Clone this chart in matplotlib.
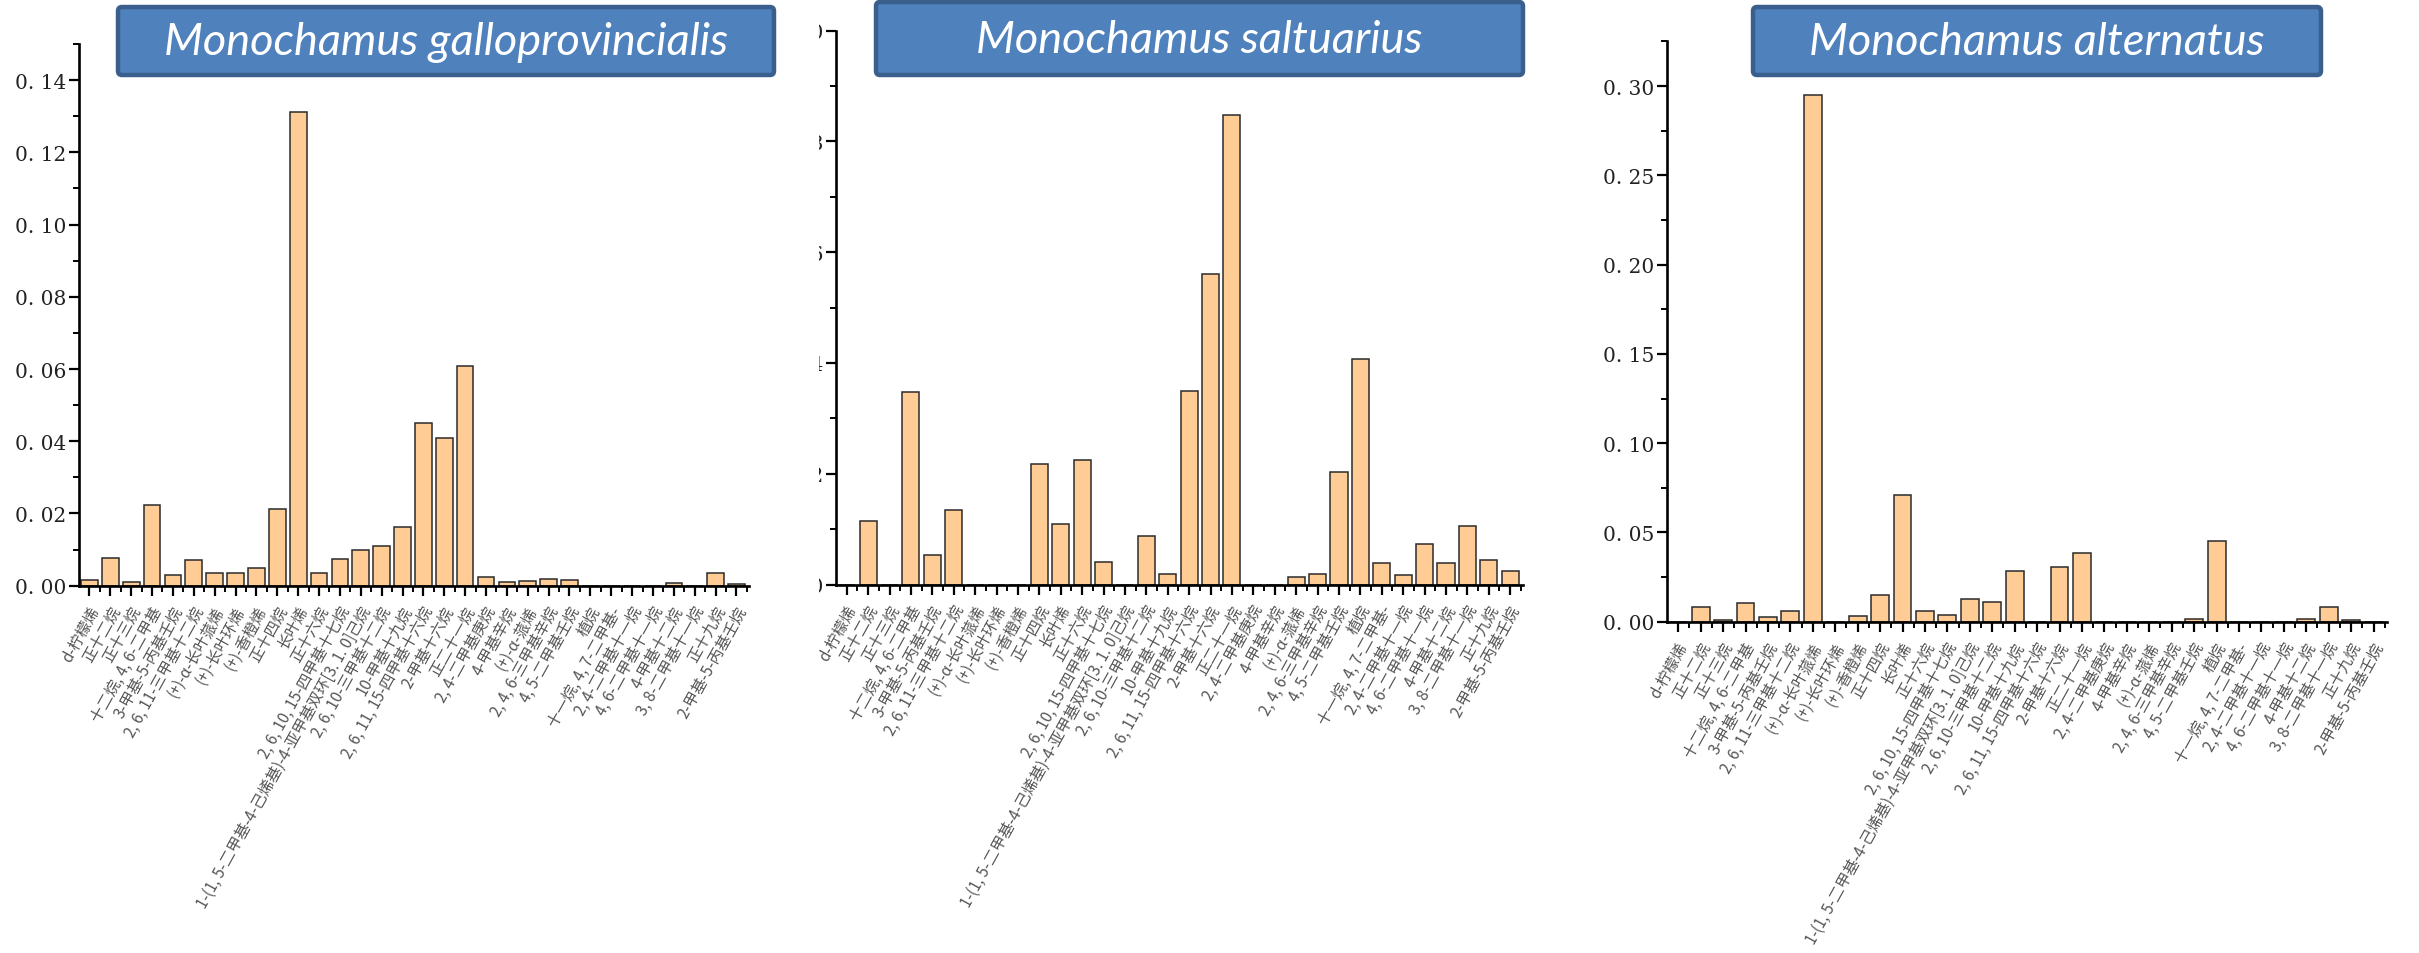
import matplotlib
matplotlib.use("Agg")
import matplotlib.pyplot as plt
from matplotlib.patches import FancyBboxPatch, Rectangle
from matplotlib.transforms import IdentityTransform, ScaledTranslation
from matplotlib.ticker import MultipleLocator, FixedLocator
import numpy as np

plt.rcParams['font.family'] = ['Noto Sans CJK SC', 'DejaVu Sans']

compounds = ["d-柠檬烯", "正十二烷", "正十三烷", "十二烷, 4, 6-二甲基", "3-甲基-5-丙基壬烷",
             "2, 6, 11-三甲基十二烷", "(+)-α-长叶蒎烯", "(+)-长叶环烯", "(+)-香橙烯", "正十四烷",
             "长叶烯", "正十六烷", "2, 6, 10, 15-四甲基十七烷",
             "1-(1, 5-二甲基-4-己烯基)-4-亚甲基双环[3. 1. 0]己烷", "2, 6, 10-三甲基十二烷",
             "10-甲基十九烷", "2, 6, 11, 15-四甲基十六烷", "2-甲基十六烷", "正二十一烷",
             "2, 4-二甲基庚烷", "4-甲基辛烷", "(+)-α-蒎烯", "2, 4, 6-三甲基辛烷", "4, 5-二甲基壬烷",
             "植烷", "十一烷, 4, 7-二甲基-", "2, 4-二甲基十一烷", "4, 6-二甲基十一烷", "4-甲基十二烷",
             "3, 8-二甲基十一烷", "正十九烷", "2-甲基-5-丙基壬烷"]

galloprovincialis = [0.0017, 0.0076, 0.0009, 0.0223, 0.0031, 0.0070, 0.0036, 0.0036, 0.0050, 0.0213,
                     0.1312, 0.0035, 0.0075, 0.0098, 0.0109, 0.0162, 0.0450, 0.0410, 0.0609,
                     0.0025, 0.0011, 0.0013, 0.0019, 0.0017, 0, 0, 0, 0, 0.0008, 0, 0.0034, 0.0006]

saltuarius = [0, 0.0115, 0, 0.0348, 0.0054, 0.0135, 0, 0, 0, 0.0218, 0.0110, 0.0225, 0.0041, 0,
              0.0088, 0.0019, 0.0349, 0.0561, 0.0847, 0, 0, 0.0013, 0.0019, 0.0204, 0.0407,
              0.0039, 0.0017, 0.0073, 0.0038, 0.0106, 0.0044, 0.0025]

alternatus = [0, 0.0082, 0.0008, 0.0104, 0.0024, 0.0062, 0.2952, 0, 0.0030, 0.0147, 0.0709,
              0.0059, 0.0039, 0.0126, 0.0108, 0.0284, 0, 0.0309, 0.0387, 0, 0, 0, 0, 0.0016,
              0.0451, 0, 0, 0, 0.0014, 0.0083, 0.0007, 0]

titles = ["Monochamus galloprovincialis", "Monochamus saltuarius", "Monochamus alternatus"]

yticks1 = [0.00, 0.02, 0.04, 0.06, 0.08, 0.10, 0.12, 0.14]
yticklabels1 = ["0. 00", "0. 02", "0. 04", "0. 06", "0. 08", "0. 10", "0. 12", "0. 14"]
yticks2 = [0.00, 0.02, 0.04, 0.06, 0.08, 0.10]
yticklabels2 = ["0. 00", "0. 02", "0. 04", "0. 06", "0. 08", "0. 10"]
yticks3 = [0.00, 0.05, 0.10, 0.15, 0.20, 0.25, 0.30]
yticklabels3 = ["0. 00", "0. 05", "0. 10", "0. 15", "0. 20", "0. 25", "0. 30"]

W, H = 2419, 954
fig = plt.figure(figsize=(W / 100, H / 100), dpi=100)
fig.patch.set_facecolor("white")

def ax_at(l, r, t, b):
    return fig.add_axes([l / W, 1 - b / H, (r - l) / W, (b - t) / H])

axes = [ax_at(79, 749, 45, 586.7), ax_at(836, 1523, 31.7, 585.5), ax_at(1667, 2387, 42.4, 622.7)]
datasets = [galloprovincialis, saltuarius, alternatus]
ylims = [0.150, 0.100, 0.325]
yminor = [0.01, 0.01, 0.025]
ytick_sets = [(yticks1, yticklabels1), (yticks2, yticklabels2), (yticks3, yticklabels3)]

x = np.arange(1, len(compounds) + 1)
for ax, vals, ylim, ym, (yt, ytl) in zip(axes, datasets, ylims, yminor, ytick_sets):
    ax.bar(x, vals, width=0.8, color="#FFCC96", edgecolor="#2b2b2b", linewidth=1.1, zorder=2)
    ax.set_xlim(0.5, 32.6)
    ax.set_ylim(0, ylim)
    for s in ["top", "right"]:
        ax.spines[s].set_visible(False)
    for s in ["left", "bottom"]:
        ax.spines[s].set_linewidth(1.9)
        ax.spines[s].set_color("black")
    ax.set_yticks(yt)
    ax.set_yticklabels(ytl, fontfamily="DejaVu Serif", fontsize=14.5, color="#222222")
    ax.yaxis.set_minor_locator(MultipleLocator(ym))
    ax.set_xticks(x)
    ax.xaxis.set_minor_locator(FixedLocator(np.arange(1.5, 33.0, 1.0)))
    ax.tick_params(axis="both", which="major", direction="out", length=7.5, width=1.6, color="black")
    ax.tick_params(axis="both", which="minor", direction="out", length=4.5, width=1.4, color="black")
    ax.tick_params(axis="y", which="major", pad=1.5)
    ax.tick_params(axis="x", which="major", pad=8)
    ax.set_xticklabels(compounds, rotation=61, ha="right", va="center",
                       rotation_mode="anchor", fontsize=11, color="#555555")
    off = ScaledTranslation(6 / 100, 0, fig.dpi_scale_trans)
    for lab in ax.get_xticklabels():
        lab.set_transform(lab.get_transform() + off)

# white mask: panel 2 y-labels are cropped in the reference
fig.add_artist(Rectangle((752, H - 600), 67, 600, transform=IdentityTransform(),
                         facecolor="white", edgecolor="none", zorder=5))

boxes = [(116, 6, 776, 78), (874, 1, 1525, 78), (1751, 6, 2323, 78)]
for (x0, y0, x1, y1), t in zip(boxes, titles):
    p = FancyBboxPatch((x0 + 2, H - y1 + 2), x1 - x0 - 4, y1 - y0 - 4,
                       boxstyle="round,pad=0,rounding_size=4",
                       transform=IdentityTransform(), facecolor="#4F81BD",
                       edgecolor="#3A5F8C", linewidth=3.2, zorder=10)
    fig.add_artist(p)
    fig.text((x0 + x1) / 2, H - (y0 + y1) / 2 - 1, t, transform=IdentityTransform(),
             ha="center", va="center", color="white", fontsize=32.5,
             fontfamily="Lato", fontstyle="italic", zorder=11)

fig.savefig("out.png", dpi=100, facecolor="white")
